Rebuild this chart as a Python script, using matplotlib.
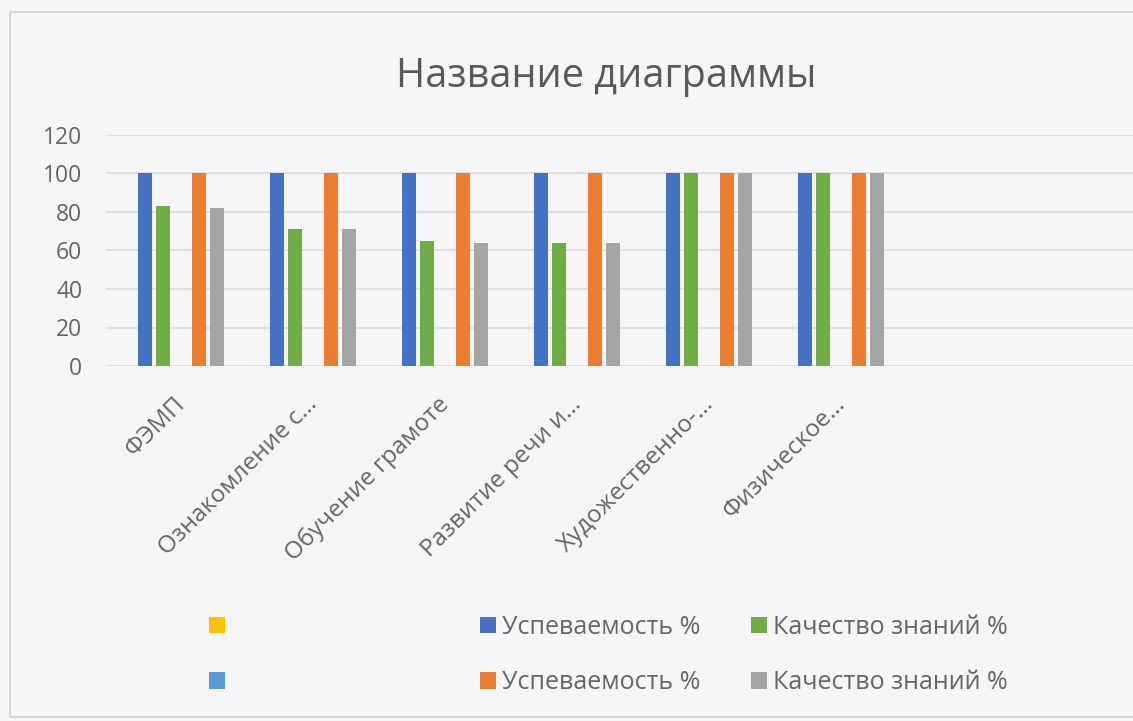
import numpy as np
import matplotlib
matplotlib.use('Agg')
import matplotlib.pyplot as plt
import matplotlib.transforms as mtransforms
from matplotlib.patches import Rectangle

plt.rcParams['font.family'] = ['Open Sans', 'DejaVu Sans']

# данные
categories = ['ФЭМП', 'Ознакомление с…', 'Обучение грамоте',
              'Развитие речи и…', 'Художественно-…', 'Физическое…']
yellow_empty = [0, 0, 0, 0, 0, 0]
usp_1 = [100, 100, 100, 100, 100, 100]
kach_1 = [83, 71, 65, 64, 100, 100]
lblue_empty = [0, 0, 0, 0, 0, 0]
usp_2 = [100, 100, 100, 100, 100, 100]
kach_2 = [82, 71, 64, 64, 100, 100]
legend_labels = ['', 'Успеваемость %', 'Качество знаний %',
                 '', 'Успеваемость %', 'Качество знаний %']
y_ticks = [0, 20, 40, 60, 80, 100, 120]

series = [yellow_empty, usp_1, kach_1, lblue_empty, usp_2, kach_2]
colors = ['#FFC000', '#4472C4', '#70AD47', '#5B9BD5', '#ED7D31', '#A5A5A5']

bg = '#f6f6f8'
txt = '#666666'

fig = plt.figure(figsize=(11.33, 7.21), dpi=100, facecolor=bg)
ax = fig.add_axes([106 / 1133, 1 - 366 / 721, 1 - 106 / 1133, (366 - 135) / 721])
ax.set_facecolor(bg)

x = np.arange(len(categories))
step = 0.136
width = 0.106
bars = []
for i, (vals, c) in enumerate(zip(series, colors)):
    b = ax.bar(x + (i - 2.5) * step, vals, width=width, color=c, zorder=3)
    bars.append(b)

ax.set_xlim(-0.5, -0.5 + (1133 - 106) / 132)
ax.set_ylim(0, 120)
ax.set_yticks(y_ticks)
ax.yaxis.grid(True, color='#dcdcdc', lw=1.2, zorder=0)
for s in ax.spines.values():
    s.set_visible(False)
ax.tick_params(axis='both', length=0, colors=txt)
ax.tick_params(axis='y', pad=17, labelsize=16.5)
ax.set_xticks(x)
ax.set_xticklabels(categories, rotation=45, ha='right', rotation_mode='anchor',
                   va='center', fontsize=17.5)
ax.tick_params(axis='x', pad=25)
# сдвиг подписей категорий вправо
shift = mtransforms.ScaledTranslation(10 / 100, 0, fig.dpi_scale_trans)
for lbl in ax.get_xticklabels():
    lbl.set_transform(lbl.get_transform() + shift)

fig.text(0.535, 1 - 87 / 721, 'Название диаграммы', ha='center', va='baseline',
         fontsize=28.5, color='#595959')

# легенда: пустые серии отдельно
leg_kw = dict(frameon=False, fontsize=18, labelcolor=txt, handlelength=0.65,
              handleheight=0.65, handletextpad=0.25, labelspacing=1.22,
              borderpad=0, borderaxespad=0)
leg1 = fig.legend([bars[0], bars[3]], [legend_labels[0], legend_labels[3]],
                  loc='center left', bbox_to_anchor=(209 / 1133, 1 - 655 / 721), **leg_kw)
leg2 = fig.legend([bars[1], bars[4], bars[2], bars[5]],
                  [legend_labels[1], legend_labels[4], legend_labels[2], legend_labels[5]],
                  ncol=2, columnspacing=2.0, loc='center left',
                  bbox_to_anchor=(480 / 1133, 1 - 655 / 721), **leg_kw)

# рамка области диаграммы
fig.patches.append(Rectangle((10 / 1133, 1 - 717 / 721), 2, (717 - 12) / 721,
                             transform=fig.transFigure, fill=False,
                             ec='#d4d4d4', lw=1.2))

fig.savefig('out.png', dpi=100, facecolor=bg)
